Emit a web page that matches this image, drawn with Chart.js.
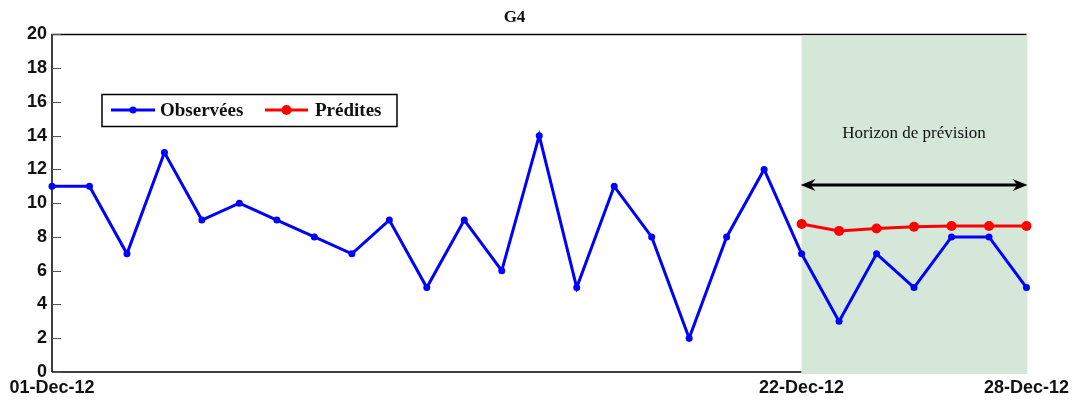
<!DOCTYPE html>
<html>
<head>
<meta charset="utf-8">
<script src="https://cdn.jsdelivr.net/npm/chart.js@4.4.1/dist/chart.umd.min.js"></script>
<style>
html,body{margin:0;padding:0;background:#fff;}
#wrap{width:1074px;height:400px;}
</style>
</head>
<body>
<div id="wrap"><canvas id="c" width="1074" height="400"></canvas></div>
<script>
const chartTitle = 'G4';
const categories = ['01-Dec-12','','','','','','','','','','','','','','','','','','','','22-Dec-12','','','','','','28-Dec-12'];
const observed = [11,11,7,13,9,10,9,8,7,9,5,9,6,14,5,11,8,2,8,12,7,3,7,5,8,8,5];
const predicted = [null,null,null,null,null,null,null,null,null,null,null,null,null,null,null,null,null,null,null,null,8.77,8.36,8.5,8.6,8.65,8.65,8.65];
const yTicks = [0,2,4,6,8,10,12,14,16,18,20];
const seriesNames = ['Observées','Prédites'];
const horizonText = 'Horizon de prévision';

const forecastStart = predicted.findIndex(v => v !== null);

const framePlugin = {
  id: 'frame',
  beforeDatasetsDraw(chart) {
    const {ctx, chartArea: a, scales: {x, y}} = chart;
    const xs = x.getPixelForValue(forecastStart);
    ctx.save();
    ctx.strokeStyle = '#000';
    ctx.lineWidth = 1.5;
    ctx.beginPath();
    ctx.moveTo(a.left, a.bottom); ctx.lineTo(a.left, a.top);
    ctx.lineTo(a.right, a.top);
    ctx.moveTo(a.left, a.bottom); ctx.lineTo(xs, a.bottom);
    ctx.stroke();
    ctx.strokeStyle = '#555';
    ctx.lineWidth = 1;
    ctx.beginPath();
    yTicks.forEach(v => {
      const py = Math.round(y.getPixelForValue(v)) + 0.5;
      ctx.moveTo(a.left, py); ctx.lineTo(a.left + 9, py);
    });
    ctx.stroke();
    ctx.fillStyle = '#d5e7d9';
    ctx.fillRect(xs, a.top + 1, a.right - xs + 1, a.bottom - a.top + 1);
    ctx.restore();
  },
  afterDatasetsDraw(chart) {
    const {ctx, chartArea: a, scales: {x, y}} = chart;
    const xs = x.getPixelForValue(forecastStart);
    ctx.save();
    ctx.fillStyle = '#111';
    ctx.font = '17px "Liberation Serif", "Times New Roman", serif';
    ctx.textAlign = 'center';
    ctx.textBaseline = 'middle';
    ctx.fillText(horizonText, (xs + a.right) / 2, 134);
    const ay = 185;
    ctx.strokeStyle = '#000';
    ctx.fillStyle = '#000';
    ctx.lineWidth = 3;
    ctx.beginPath();
    ctx.moveTo(xs + 4, ay); ctx.lineTo(a.right - 4, ay);
    ctx.stroke();
    ctx.beginPath();
    ctx.moveTo(xs - 1, ay); ctx.lineTo(xs + 14, ay - 6); ctx.lineTo(xs + 9, ay); ctx.lineTo(xs + 14, ay + 6); ctx.closePath();
    ctx.fill();
    ctx.beginPath();
    ctx.moveTo(a.right + 1, ay); ctx.lineTo(a.right - 14, ay - 6); ctx.lineTo(a.right - 9, ay); ctx.lineTo(a.right - 14, ay + 6); ctx.closePath();
    ctx.fill();
    const lx = 102, ly = 94.5, lw = 295, lh = 32;
    ctx.fillStyle = '#fff';
    ctx.fillRect(lx, ly, lw, lh);
    ctx.strokeStyle = '#000';
    ctx.lineWidth = 1.5;
    ctx.strokeRect(lx, ly, lw, lh);
    const ds = chart.data.datasets;
    const items = [{x0: 111, x1: 155, tx: 160, r: 3.5}, {x0: 265, x1: 308, tx: 315, r: 5}];
    ctx.font = 'bold 19px "Liberation Serif", "Times New Roman", serif';
    ctx.textAlign = 'left';
    ctx.textBaseline = 'middle';
    items.forEach((it, i) => {
      const my = 110;
      ctx.strokeStyle = ds[i].borderColor;
      ctx.lineWidth = 3;
      ctx.beginPath(); ctx.moveTo(it.x0, my); ctx.lineTo(it.x1, my); ctx.stroke();
      ctx.fillStyle = ds[i].borderColor;
      ctx.beginPath(); ctx.arc((it.x0 + it.x1) / 2, my, it.r, 0, Math.PI * 2); ctx.fill();
      ctx.fillStyle = '#111';
      ctx.fillText(ds[i].label, it.tx, my + 1);
    });
    ctx.restore();
  }
};

new Chart(document.getElementById('c'), {
  type: 'line',
  data: {
    labels: categories,
    datasets: [
      {label: seriesNames[0], data: observed, borderColor: '#0000ff', backgroundColor: '#0000ff', borderWidth: 3, pointRadius: 3.5, pointHoverRadius: 3.5, pointBorderWidth: 0, tension: 0, clip: false},
      {label: seriesNames[1], data: predicted, borderColor: '#ff0000', backgroundColor: '#ff0000', borderWidth: 3, pointRadius: 5, pointHoverRadius: 5, pointBorderWidth: 0, tension: 0, clip: false, spanGaps: false}
    ]
  },
  options: {
    responsive: false,
    animation: false,
    events: [],
    layout: {padding: {left: 0, right: 45, top: 0, bottom: 0}},
    plugins: {
      legend: {display: false},
      tooltip: {enabled: false},
      title: {display: true, text: chartTitle, color: '#111', font: {family: '"Liberation Serif", "Times New Roman", serif', size: 17, weight: 'bold'}, padding: {top: 7, bottom: 7}}
    },
    scales: {
      x: {
        offset: false,
        grid: {display: false, drawTicks: false},
        border: {display: false},
        ticks: {autoSkip: false, maxRotation: 0, minRotation: 0, padding: 5, color: '#111',
          font: {family: '"Liberation Sans", Arial, sans-serif', size: 18, weight: 'bold'},
          callback: (v, i) => categories[i]},
        afterFit: s => { s.height = 28; }
      },
      y: {
        min: 0, max: 20,
        grid: {display: false, drawTicks: false},
        border: {display: false},
        afterBuildTicks: s => { s.ticks = yTicks.map(v => ({value: v})); },
        ticks: {padding: 5, color: '#111', font: {family: '"Liberation Sans", Arial, sans-serif', size: 18, weight: 'bold'}},
        afterFit: s => { s.width = 52; }
      }
    }
  },
  plugins: [framePlugin]
});
</script>
</body>
</html>
